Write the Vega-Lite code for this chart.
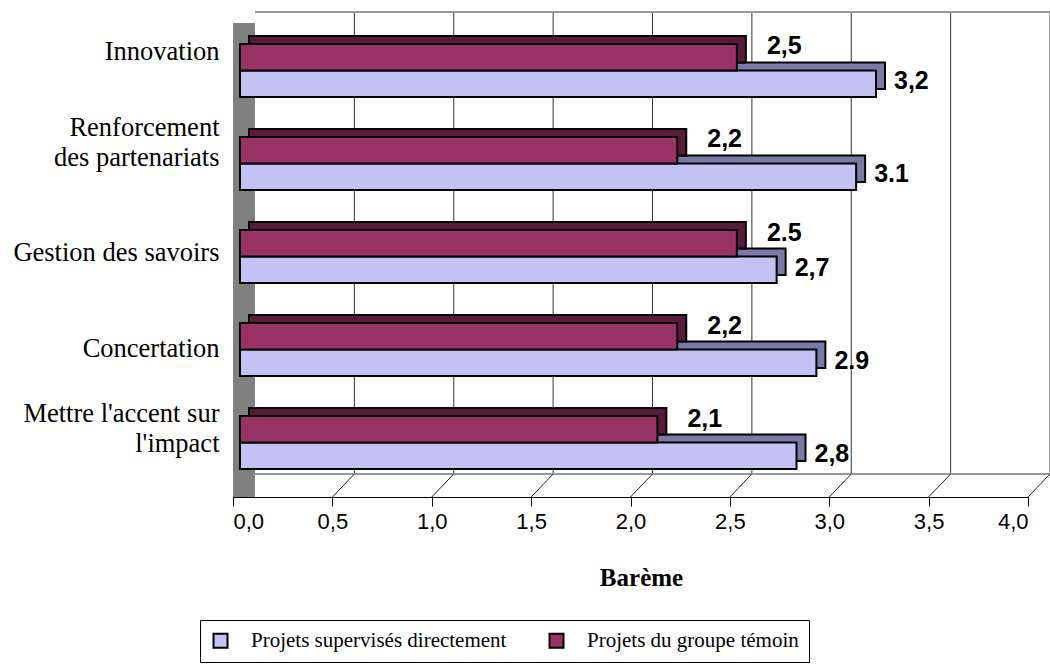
{
  "$schema": "https://vega.github.io/schema/vega-lite/v6.json",
  "width": 795,
  "height": 463,
  "autosize": {"type": "none"},
  "padding": {"left": 233, "top": 34, "right": 22, "bottom": 167},
  "background": "white",
  "config": {
    "locale": {"number": {"decimal": ",", "thousands": " ", "grouping": [3], "currency": ["", " €"]}},
    "view": {"stroke": null},
    "font": "Liberation Sans"
  },
  "datasets": {
    "bars": [
      {"cat": "Innovation", "series": "Projets du groupe témoin", "value": 2.5, "label": "2,5"},
      {"cat": "Innovation", "series": "Projets supervisés directement", "value": 3.2, "label": "3,2"},
      {"cat": "Renforcement des partenariats", "series": "Projets du groupe témoin", "value": 2.2, "label": "2,2"},
      {"cat": "Renforcement des partenariats", "series": "Projets supervisés directement", "value": 3.1, "label": "3.1"},
      {"cat": "Gestion des savoirs", "series": "Projets du groupe témoin", "value": 2.5, "label": "2.5"},
      {"cat": "Gestion des savoirs", "series": "Projets supervisés directement", "value": 2.7, "label": "2,7"},
      {"cat": "Concertation", "series": "Projets du groupe témoin", "value": 2.2, "label": "2,2"},
      {"cat": "Concertation", "series": "Projets supervisés directement", "value": 2.9, "label": "2.9"},
      {"cat": "Mettre l'accent sur l'impact", "series": "Projets du groupe témoin", "value": 2.1, "label": "2,1"},
      {"cat": "Mettre l'accent sur l'impact", "series": "Projets supervisés directement", "value": 2.8, "label": "2,8"}
    ],
    "ticks": [
      {"v": 0.5}, {"v": 1.0}, {"v": 1.5}, {"v": 2.0}, {"v": 2.5}, {"v": 3.0}, {"v": 3.5}, {"v": 4.0}
    ]
  },
  "layer": [
    {
      "data": {"name": "ticks"},
      "mark": {"type": "rect", "color": "#808080", "x2Offset": 22, "yOffset": -11, "y2Offset": -11},
      "encoding": {
        "x": {"datum": 0, "type": "quantitative", "scale": {"domain": [0, 4], "nice": false}},
        "x2": {"datum": 0}
      }
    },
    {
      "data": {"name": "ticks"},
      "mark": {"type": "rule", "color": "#333333", "strokeWidth": 1, "xOffset": 22, "yOffset": -22, "y2Offset": -23},
      "encoding": {
        "x": {"field": "v", "type": "quantitative", "title": "Barème"},
        "y": {"value": 0},
        "y2": {"value": "height"}
      }
    },
    {
      "data": {"name": "ticks"},
      "mark": {"type": "rule", "color": "#999999", "strokeWidth": 2, "xOffset": 22, "x2Offset": 22, "yOffset": -22},
      "encoding": {
        "x": {"datum": 0, "type": "quantitative"},
        "x2": {"datum": 4},
        "y": {"value": 0}
      }
    },
    {
      "data": {"name": "ticks"},
      "mark": {"type": "rule", "color": "#999999", "strokeWidth": 2, "xOffset": 22, "x2Offset": 22, "yOffset": -23},
      "encoding": {
        "x": {"datum": 0, "type": "quantitative"},
        "x2": {"datum": 4},
        "y": {"value": "height"}
      }
    },
    {
      "data": {"name": "ticks"},
      "mark": {"type": "rule", "color": "#222222", "strokeWidth": 1, "x2Offset": 22, "y2Offset": -23},
      "encoding": {
        "x": {"field": "v", "type": "quantitative", "title": "Barème"},
        "x2": {"field": "v"},
        "y": {"value": "height"},
        "y2": {"value": "height"}
      }
    },
    {
      "data": {"name": "bars"},
      "transform": [{"filter": "datum.series == 'Projets supervisés directement'"}],
      "mark": {"type": "bar", "height": {"band": 0.5}, "color": "#7a7aa8", "stroke": "black", "strokeWidth": 2, "xOffset": 16, "x2Offset": 16, "yOffset": 5.25},
      "encoding": {
        "x": {"field": "value", "type": "quantitative", "title": "Barème"},
        "y": {"field": "cat", "type": "nominal", "sort": ["Innovation", "Renforcement des partenariats", "Gestion des savoirs", "Concertation", "Mettre l'accent sur l'impact"]}
      }
    },
    {
      "data": {"name": "bars"},
      "transform": [{"filter": "datum.series == 'Projets du groupe témoin'"}],
      "mark": {"type": "bar", "height": {"band": 0.5}, "color": "#5a1a3c", "stroke": "black", "strokeWidth": 2, "xOffset": 16, "x2Offset": 16, "yOffset": -21.25},
      "encoding": {
        "x": {"field": "value", "type": "quantitative", "title": "Barème"},
        "y": {"field": "cat", "type": "nominal", "sort": ["Innovation", "Renforcement des partenariats", "Gestion des savoirs", "Concertation", "Mettre l'accent sur l'impact"]}
      }
    },
    {
      "data": {"name": "bars"},
      "transform": [{"filter": "datum.series == 'Projets supervisés directement'"}],
      "mark": {"type": "bar", "height": {"band": 0.5}, "stroke": "black", "strokeWidth": 2, "xOffset": 7, "x2Offset": 7, "yOffset": 13.25},
      "encoding": {
        "x": {"field": "value", "type": "quantitative", "title": "Barème"},
        "y": {"field": "cat", "type": "nominal", "sort": ["Innovation", "Renforcement des partenariats", "Gestion des savoirs", "Concertation", "Mettre l'accent sur l'impact"]},
        "color": {
          "field": "series", "type": "nominal",
          "scale": {"domain": ["Projets supervisés directement", "Projets du groupe témoin"], "range": ["#c2c2f5", "#993366"]}
        }
      }
    },
    {
      "data": {"name": "bars"},
      "transform": [{"filter": "datum.series == 'Projets du groupe témoin'"}],
      "mark": {"type": "bar", "height": {"band": 0.5}, "stroke": "black", "strokeWidth": 2, "xOffset": 7, "x2Offset": 7, "yOffset": -13.25},
      "encoding": {
        "x": {
          "field": "value", "type": "quantitative", "title": "Barème",
          "scale": {"domain": [0, 4], "nice": false},
          "axis": {
            "values": [0, 0.5, 1, 1.5, 2, 2.5, 3, 3.5, 4],
            "format": ".1f",
            "grid": false,
            "domainColor": "black",
            "domainWidth": 1,
            "tickColor": "black",
            "tickSize": 9,
            "labelFont": "Liberation Sans",
            "labelFontSize": 22,
            "labelColor": "black",
            "labelPadding": 5,
            "titleFont": "Liberation Serif",
            "titleFontSize": 25,
            "titleFontWeight": "bold",
            "titleColor": "black",
            "titleX": 408,
            "titleY": 80,
            "titleBaseline": "middle",
            "titleAlign": "center"
          }
        },
        "y": {
          "field": "cat", "type": "nominal", "title": null,
          "sort": ["Innovation", "Renforcement des partenariats", "Gestion des savoirs", "Concertation", "Mettre l'accent sur l'impact"],
          "scale": {"paddingInner": 0.43, "paddingOuter": 0.204, "align": 0.263},
          "axis": {
            "ticks": false,
            "domain": true,
            "domainColor": "black",
            "labelFont": "Liberation Serif",
            "labelFontSize": 26.5,
            "labelColor": "black",
            "labelPadding": 14,
            "labelOffset": {
              "condition": [
                {"test": "datum.value == 'Innovation'", "value": -18},
                {"test": "datum.value == 'Renforcement des partenariats'", "value": -35},
                {"test": "datum.value == 'Gestion des savoirs'", "value": -4},
                {"test": "datum.value == 'Concertation'", "value": -1}
              ],
              "value": -29
            },
            "labelLimit": 300,
            "labelLineHeight": 30,
            "labelExpr": "datum.value == 'Renforcement des partenariats' ? ['Renforcement', 'des partenariats'] : datum.value == \"Mettre l'accent sur l'impact\" ? [\"Mettre l'accent sur\", \"l'impact\"] : datum.value"
          }
        },
        "color": {
          "field": "series", "type": "nominal",
          "scale": {"domain": ["Projets supervisés directement", "Projets du groupe témoin"], "range": ["#c2c2f5", "#993366"]},
          "legend": {
            "title": null,
            "orient": "none",
            "legendX": -33,
            "legendY": 586,
            "direction": "horizontal",
            "strokeColor": "black",
            "fillColor": "white",
            "padding": 10,
            "columnPadding": 38,
            "symbolType": "square",
            "symbolSize": 196,
            "symbolStrokeColor": "black",
            "symbolStrokeWidth": 2,
            "labelFont": "Liberation Serif",
            "labelFontSize": 21,
            "labelColor": "black",
            "labelOffset": 20,
            "labelLimit": 500
          }
        }
      }
    },
    {
      "data": {"name": "bars"},
      "transform": [{"filter": "datum.series == 'Projets du groupe témoin'"}],
      "mark": {"type": "text", "align": "left", "baseline": "middle", "dx": 37, "dy": -24, "font": "Liberation Sans", "fontWeight": "bold", "fontSize": 25, "color": "black"},
      "encoding": {
        "x": {"field": "value", "type": "quantitative", "title": "Barème"},
        "y": {"field": "cat", "type": "nominal", "sort": ["Innovation", "Renforcement des partenariats", "Gestion des savoirs", "Concertation", "Mettre l'accent sur l'impact"]},
        "text": {"field": "label"}
      }
    },
    {
      "data": {"name": "bars"},
      "transform": [{"filter": "datum.series == 'Projets supervisés directement'"}],
      "mark": {"type": "text", "align": "left", "baseline": "middle", "dx": 25, "dy": 11, "font": "Liberation Sans", "fontWeight": "bold", "fontSize": 25, "color": "black"},
      "encoding": {
        "x": {"field": "value", "type": "quantitative", "title": "Barème"},
        "y": {"field": "cat", "type": "nominal", "sort": ["Innovation", "Renforcement des partenariats", "Gestion des savoirs", "Concertation", "Mettre l'accent sur l'impact"]},
        "text": {"field": "label"}
      }
    }
  ]
}
